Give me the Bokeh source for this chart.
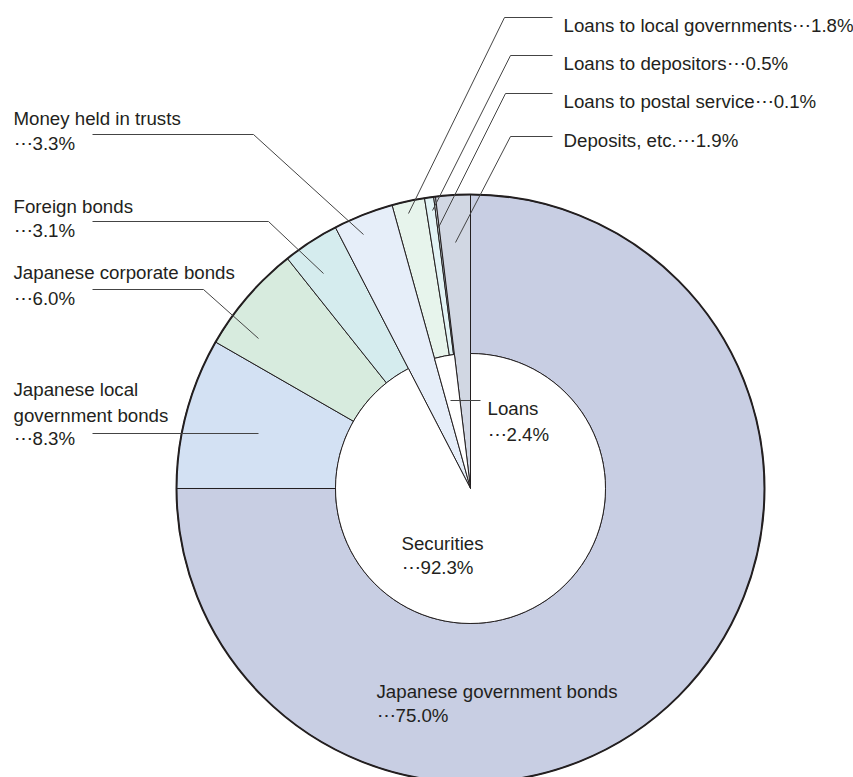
import math
from bokeh.plotting import figure
from bokeh.models import Range1d
from bokeh.embed import file_html
from bokeh.resources import INLINE
from bokeh.core.properties import value

# ---------------- data ----------------
segments = ["Japanese government bonds", "Japanese local government bonds",
            "Japanese corporate bonds", "Foreign bonds", "Money held in trusts",
            "Loans to local governments", "Loans to depositors",
            "Loans to postal service", "Deposits, etc."]
shares = [75.0, 8.3, 6.0, 3.1, 3.3, 1.8, 0.5, 0.1, 1.9]
groups = ["Securities", "Securities", "Securities", "Securities",
          "Money held in trusts", "Loans", "Loans", "Loans", "Deposits, etc."]
group_names = ["Securities", "Loans"]
group_shares = [92.3, 2.4]

# ---------------- styles ----------------
colors = ["#c8cee3", "#d3e1f3", "#d7ebde", "#d5ecee", "#e6eef9",
          "#e7f4ec", "#e2f3f5", "#dfeef4", "#d1d7e3"]
TXT = "#231f20"
EDGE = "#231f20"
LEAD = "#444444"
FONT = value("Liberation Sans")
FS = "18.7px"
DOTS = "\u22ef"

W, H = 853, 777
def Y(v):
    return H - v

CX, CY = 470, Y(488)
R_OUT, R_IN = 294, 135

p = figure(width=W, height=H, output_backend="svg", toolbar_location=None,
           x_range=Range1d(0, W), y_range=Range1d(0, H),
           x_axis_location=None, y_axis_location=None, match_aspect=False)
p.min_border = 0
p.outline_line_color = None
p.grid.visible = False
p.background_fill_color = "white"

total = sum(shares)
cum = [0.0]
for s in shares:
    cum.append(cum[-1] + s)
def ang(c):
    return math.pi / 2 - 2 * math.pi * c / total

ring_idx = [i for i, g in enumerate(groups) if g in group_names]
full_idx = [i for i, g in enumerate(groups) if g not in group_names]

p.annular_wedge(x=CX, y=CY, inner_radius=R_IN, outer_radius=R_OUT,
                start_angle=[ang(cum[i]) for i in ring_idx],
                end_angle=[ang(cum[i + 1]) for i in ring_idx],
                direction="clock", fill_color=[colors[i] for i in ring_idx],
                line_color=EDGE, line_width=1)
p.wedge(x=CX, y=CY, radius=R_OUT,
        start_angle=[ang(cum[i]) for i in full_idx],
        end_angle=[ang(cum[i + 1]) for i in full_idx],
        direction="clock", fill_color=[colors[i] for i in full_idx],
        line_color=EDGE, line_width=1)

# inner white wedges for the groups
g_start, g_end = [], []
for g in group_names:
    idx = [i for i, gg in enumerate(groups) if gg == g]
    g_start.append(ang(cum[idx[0]]))
    g_end.append(ang(cum[idx[-1] + 1]))
p.wedge(x=CX, y=CY, radius=R_IN, start_angle=g_start, end_angle=g_end,
        direction="clock", fill_color="white", line_color=EDGE, line_width=1)

# outer outline
p.circle(x=[CX], y=[CY], radius=R_OUT, fill_color=None, line_color=EDGE, line_width=2)

# ---------------- leader lines (layout) ----------------
leaders = [
    [(92, 134), (253, 134), (363, 234)],
    [(92, 221), (268, 221), (323, 273)],
    [(92, 289), (203, 289), (258, 338)],
    [(92, 433), (258, 433)],
    [(552, 17), (504, 17), (408, 213)],
    [(552, 55), (510, 55), (432, 210)],
    [(552, 93), (505, 93), (438, 227)],
    [(552, 136), (510, 136), (455, 242)],
    [(480, 400), (450, 400)],
]
p.multi_line(xs=[[pt[0] for pt in l] for l in leaders],
             ys=[[Y(pt[1]) for pt in l] for l in leaders],
             line_color=LEAD, line_width=1)

# ---------------- labels ----------------
def pct(v):
    return f"{DOTS}{v:.1f}%"

tx, ty, tt = [], [], []
def add(x, y, t):
    tx.append(x); ty.append(Y(y)); tt.append(t)

# left labels
add(13, 118, segments[4]); add(13, 143, pct(shares[4]))
add(13, 206, segments[3]); add(13, 230, pct(shares[3]))
add(13, 272, segments[2]); add(13, 298, pct(shares[2]))
add(13, 389, "Japanese local"); add(13, 415, "government bonds"); add(13, 438, pct(shares[1]))
# right labels
add(563, 25, segments[5] + pct(shares[5]))
add(563, 63, segments[6] + pct(shares[6]))
add(563, 101, segments[7] + pct(shares[7]))
add(563, 140, segments[8] + pct(shares[8]))
# inner labels
add(487, 408, group_names[1]); add(487, 434, pct(group_shares[1]))
add(401, 543, group_names[0]); add(401, 567, pct(group_shares[0]))
add(376, 691, segments[0]); add(376, 715, pct(shares[0]))

p.text(x=tx, y=ty, text=tt, text_font=FONT, text_font_size=FS,
       text_baseline="alphabetic", text_align="left", text_color=TXT)

open("out.html", "w").write(file_html(p, INLINE))
